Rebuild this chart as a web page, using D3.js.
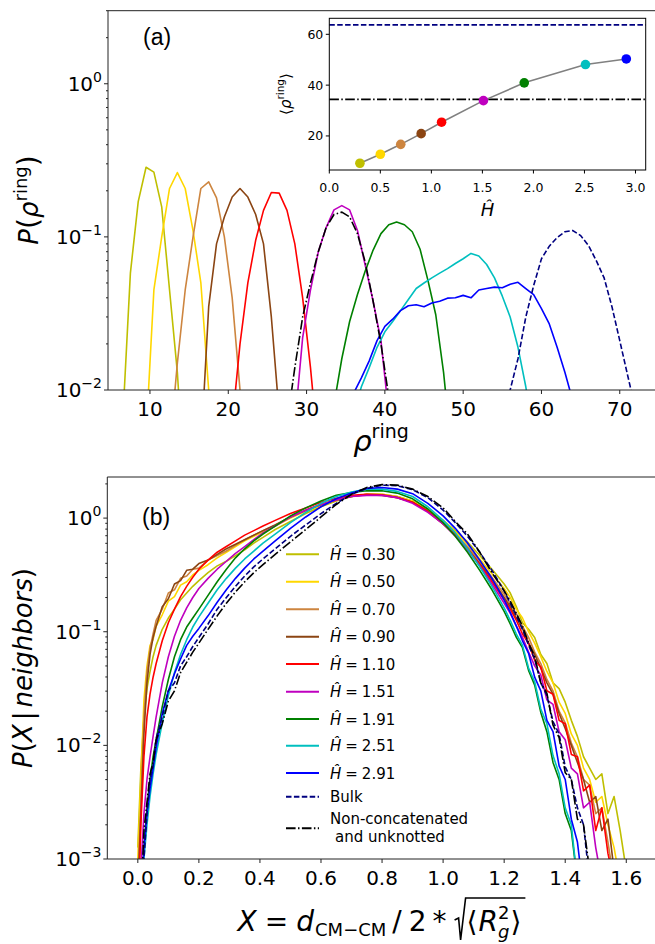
<!DOCTYPE html>
<html><head><meta charset="utf-8">
<script src="https://cdn.jsdelivr.net/npm/d3@7"></script>
<style>body{margin:0;background:#fff}svg{display:block}</style>
</head><body>
<svg id="c" width="655" height="944"></svg>
<script>
// ---------------- DATA ----------------
const hLabels = ["0.30","0.50","0.70","0.90","1.10","1.51","1.91","2.51","2.91"];
const hValues = [0.30,0.50,0.70,0.90,1.10,1.51,1.91,2.51,2.91];
const meanRho = [9.25,12.8,16.7,20.9,25.4,33.9,40.9,48.1,50.3];
const meanRhoBulk = 63.7;
const meanRhoNonconcat = 34.4;

// panel (a): P(rho_ring)
const rho_030 = [6.5,7.5,8.5,9.5,10.5,11.5,12.5,13.5,14.5];
const p_030   = [0.006,0.058,0.17,0.285,0.265,0.157,0.045,0.013,0.002];
const rho_050 = [9.5,10.5,11.5,12.5,13.5,14.5,15.5,16.5,17.5,18.5];
const p_050   = [0.005,0.045,0.10,0.207,0.263,0.207,0.11,0.05,0.01,0.002];
const rho_070 = [12.5,13.5,14.5,15.5,16.5,17.5,18.5,19.5,20.5,21.5,22.5];
const p_070   = [0.004,0.015,0.045,0.1,0.207,0.229,0.18,0.1,0.04,0.01,0.002];
const rho_090 = [16.5,17.5,18.5,19.5,20.5,21.5,22.5,23.5,24.5,25.5,26.5];
const p_090   = [0.004,0.035,0.09,0.135,0.182,0.207,0.182,0.14,0.09,0.03,0.007];
const rho_110 = [20.5,21.5,22.5,23.5,24.5,25.5,26.5,27.5,28.5,29.5,30.5,31.5];
const p_110   = [0.006,0.02,0.05,0.095,0.149,0.195,0.193,0.149,0.09,0.04,0.014,0.004];
const rho_151 = [28.5,29.5,30.5,31.5,32.5,33.5,34.5,35.5,36.5,37.5,38.5,39.5,40.5];
const p_151   = [0.006,0.022,0.045,0.08,0.115,0.15,0.16,0.15,0.11,0.065,0.038,0.021,0.007];
const rho_191 = [33.5,34.5,35.5,36.5,37.5,38.5,39.5,40.5,41.5,42.5,43.5,44.5,45.5,46.5,47.5,48.5];
const p_191   = [0.008,0.016,0.028,0.042,0.06,0.082,0.105,0.12,0.125,0.12,0.108,0.083,0.052,0.031,0.013,0.004];
const rho_251 = [36,37,38,39,40,41,42,43,44,45,46,47,48,49,50,51,52,53,54,55,56,57,58,59];
const p_251   = [0.007,0.0105,0.014,0.019,0.024,0.028,0.033,0.039,0.046,0.05,0.054,0.058,0.062,0.067,0.072,0.078,0.075,0.066,0.054,0.041,0.03,0.019,0.0105,0.005];
const rho_291 = [36,37,38,39,40,41,42,43,44,45,46,47,48,49,50,51,52,53,54,55,56,57,58,59,60,61,62,63,64];
const p_291   = [0.0095,0.012,0.0155,0.021,0.026,0.029,0.033,0.0355,0.036,0.035,0.037,0.038,0.0398,0.040,0.0415,0.040,0.045,0.046,0.047,0.0465,0.049,0.0505,0.046,0.042,0.034,0.027,0.019,0.013,0.0085];
const rho_bulk = [55,56,57,58,59,60,61,62,63,64,65,66,67,68,69,70,71,72];
const p_bulk   = [0.006,0.01,0.016,0.03,0.048,0.072,0.087,0.099,0.108,0.11,0.102,0.088,0.07,0.054,0.035,0.021,0.0125,0.0075];
const rho_nc = [27.5,28.5,29.5,30.5,31.5,32.5,33.5,34.5,35.5,36.5,37.5,38.5,39.5,40.5,41.5];
const p_nc   = [0.006,0.014,0.03,0.05,0.08,0.115,0.14,0.145,0.135,0.105,0.068,0.038,0.02,0.009,0.003];

// panel (b): P(X | neighbors)
const xGrid = [0,0.01,0.02,0.03,0.04,0.05,0.06,0.08,0.10,0.12,0.14,0.16,0.18,0.20,0.23,0.26,0.29,0.32,0.35,0.38,0.41,0.45,0.50,0.55,0.60,0.65,0.70,0.75,0.80,0.85,0.90,0.95,1.00,1.04,1.08,1.12,1.16,1.20,1.22,1.24,1.26,1.28,1.30,1.32,1.34,1.36,1.38,1.40,1.42,1.44,1.46,1.48,1.50,1.52,1.54,1.56,1.58,1.60,1.62];
const pX_030 = [0.00126,0.00631,0.0178,0.0316,0.0447,0.0603,0.0759,0.105,0.132,0.158,0.191,0.219,0.251,0.282,0.331,0.380,0.417,0.468,0.525,0.603,0.676,0.794,0.933,1.096,1.259,1.413,1.549,1.622,1.622,1.549,1.413,1.202,0.955,0.776,0.617,0.468,0.355,0.263,0.219,0.166,0.120,0.105,0.0891,0.0631,0.0525,0.0355,0.0316,0.0240,0.0166,0.0120,0.00794,0.00631,0.00501,0.00562,0.00251,0.00355,0.00178,0.000794,null];
const pX_050 = [0.001,0.00501,0.0251,0.0501,0.0759,0.0851,0.112,0.141,0.186,0.204,0.257,0.275,0.316,0.347,0.389,0.447,0.501,0.562,0.631,0.692,0.759,0.851,1.0,1.148,1.288,1.445,1.549,1.622,1.622,1.549,1.413,1.202,0.955,0.759,0.589,0.437,0.324,0.240,0.200,0.158,0.132,0.100,0.0794,0.0603,0.0447,0.0355,0.0240,0.0191,0.0126,0.0100,0.00631,0.00501,0.00316,0.00355,0.00200,0.00126,0.000631,null,null];
const pX_070 = [0.000631,0.00316,0.0178,0.0447,0.0708,0.0955,0.126,0.158,0.219,0.234,0.295,0.309,0.355,0.363,0.427,0.468,0.513,0.575,0.646,0.708,0.776,0.871,1.023,1.175,1.318,1.445,1.549,1.622,1.603,1.531,1.380,1.175,0.912,0.724,0.562,0.417,0.302,0.214,0.174,0.145,0.112,0.0891,0.0661,0.0525,0.0380,0.0302,0.0200,0.0158,0.0105,0.00794,0.00501,0.00447,0.00251,0.00282,0.00141,0.000631,null,null,null];
const pX_090 = [0.000501,0.00251,0.0126,0.0355,0.0631,0.0891,0.112,0.166,0.195,0.263,0.282,0.347,0.355,0.398,0.427,0.479,0.537,0.589,0.646,0.708,0.776,0.871,1.023,1.175,1.318,1.445,1.549,1.603,1.585,1.514,1.380,1.148,0.891,0.708,0.537,0.398,0.288,0.200,0.166,0.132,0.107,0.0794,0.0631,0.0479,0.0355,0.0282,0.0191,0.0141,0.0100,0.00708,0.00501,0.00316,0.00355,0.00178,0.00224,0.000794,null,null,null];
const pX_110 = [0.000251,0.00200,0.00794,0.0178,0.0282,0.0398,0.0525,0.0832,0.120,0.158,0.204,0.251,0.302,0.355,0.427,0.501,0.562,0.631,0.708,0.776,0.851,0.955,1.096,1.230,1.380,1.496,1.585,1.622,1.603,1.514,1.380,1.148,0.891,0.708,0.537,0.389,0.275,0.191,0.158,0.126,0.0955,0.0794,0.0562,0.0490,0.0302,0.0282,0.0166,0.0155,0.00832,0.00794,0.00398,0.00447,0.00178,0.00282,0.00112,0.000631,null,null,null];
const pX_151 = [0.0001,0.000794,0.00251,0.00501,0.00794,0.0120,0.0178,0.0355,0.0603,0.0912,0.126,0.162,0.200,0.240,0.295,0.355,0.417,0.490,0.562,0.646,0.741,0.851,1.023,1.175,1.318,1.445,1.549,1.585,1.585,1.514,1.349,1.122,0.891,0.692,0.525,0.380,0.263,0.178,0.145,0.112,0.0891,0.0661,0.0501,0.0417,0.0251,0.0229,0.0132,0.0112,0.00631,0.00562,0.00282,0.00316,0.00126,0.000631,null,null,null,null,null];
const pX_191 = [0.0000631,0.000398,0.00126,0.00282,0.00501,0.00794,0.0112,0.0219,0.0380,0.0603,0.0851,0.110,0.132,0.158,0.209,0.275,0.355,0.447,0.537,0.631,0.724,0.851,1.047,1.230,1.413,1.585,1.679,1.738,1.738,1.660,1.479,1.202,0.912,0.692,0.501,0.347,0.234,0.151,0.117,0.0891,0.0724,0.0457,0.0339,0.0195,0.0132,0.00708,0.00501,0.00251,0.00178,0.000631,null,null,null,null,null,null,null,null,null];
const pX_251 = [0.0000501,0.000251,0.001,0.002,0.00355,0.00562,0.00832,0.0158,0.0275,0.0437,0.0631,0.0851,0.110,0.135,0.178,0.234,0.295,0.363,0.437,0.513,0.603,0.724,0.912,1.122,1.349,1.549,1.698,1.799,1.799,1.718,1.549,1.259,0.955,0.741,0.537,0.372,0.251,0.162,0.126,0.0955,0.0759,0.0479,0.0363,0.0209,0.0155,0.00813,0.00562,0.00282,0.00200,0.000631,null,null,null,null,null,null,null,null,null];
const pX_291 = [0.0000501,0.000316,0.00126,0.00251,0.00417,0.00631,0.00955,0.0191,0.0302,0.0427,0.0575,0.0759,0.0912,0.107,0.138,0.182,0.234,0.295,0.363,0.437,0.513,0.631,0.813,1.023,1.259,1.479,1.660,1.820,1.862,1.799,1.641,1.349,1.047,0.813,0.603,0.427,0.295,0.191,0.148,0.112,0.0832,0.0646,0.0398,0.0302,0.0166,0.0132,0.00661,0.00501,0.00224,0.00141,0.000501,null,null,null,null,null,null,null,null];
const pX_bulk = [0.0000316,0.000251,0.001,0.00251,0.00501,0.00661,0.0115,0.0178,0.0302,0.0355,0.0501,0.0603,0.0741,0.0891,0.117,0.158,0.200,0.251,0.309,0.372,0.437,0.537,0.692,0.871,1.096,1.349,1.622,1.820,1.950,1.928,1.778,1.514,1.175,0.912,0.692,0.501,0.347,0.229,0.178,0.138,0.105,0.0759,0.0575,0.0355,0.0275,0.0162,0.0126,0.00646,0.00501,0.00282,0.00200,0.000631,null,null,null,null,null,null,null];
const pX_nc = [0.0000316,0.000398,0.00178,0.00316,0.00562,0.00708,0.0112,0.0155,0.0245,0.0302,0.0437,0.0537,0.0661,0.0794,0.105,0.138,0.178,0.224,0.275,0.331,0.389,0.479,0.617,0.794,1.023,1.318,1.622,1.862,1.972,1.950,1.799,1.549,1.230,0.933,0.724,0.501,0.331,0.229,0.186,0.145,0.112,0.0794,0.0603,0.0355,0.0288,0.0151,0.0117,0.00575,0.00501,0.00224,0.00200,0.000794,null,null,null,null,null,null,null];

// ---------------- STYLE ----------------
const colors = ["#bfbf00","#ffd700","#cd853f","#8b4513","#ff0000","#bf00bf","#008000","#00bfbf","#0000ff"];
const bulkColor = "#000080", ncColor = "#000000";
const DASH = "5.5,2.4", DASHDOT = "9.6,2.4,1.5,2.4";
const FONT = "'DejaVu Sans', sans-serif";
const AX = "#222";

const svg = d3.select("#c");

function mt(parent, parts, x, y, anchor, rotate) {
  const g = parent.append("g");
  let cx = 0;
  for (const p of parts) {
    if (p.gap !== undefined) { cx += p.gap; continue; }
    const t = g.append("text").attr("x", cx + (p.dx||0)).attr("y", p.dy || 0)
      .style("font-size", p.fs + "px").style("font-family", p.ff || FONT)
      .style("font-style", p.it ? "italic" : "normal").attr("fill", "#000").text(p.t);
    const w = t.node().getComputedTextLength();
    if (!p.noadv) cx += w + (p.dx||0);
  }
  const off = anchor === "middle" ? -cx/2 : anchor === "end" ? -cx : 0;
  g.attr("transform", `translate(${x},${y})` + (rotate ? ` rotate(${rotate})` : "") + ` translate(${off},0)`);
  return {g, w: cx};
}
function hline(g, x1, x2, y, opt) {
  return g.append("line").attr("x1", x1).attr("x2", x2).attr("y1", y).attr("y2", y)
    .attr("stroke", (opt&&opt.c)||AX).attr("stroke-width", (opt&&opt.w)||1);
}
function vline(g, x, y1, y2, opt) {
  return g.append("line").attr("x1", x).attr("x2", x).attr("y1", y1).attr("y2", y2)
    .attr("stroke", (opt&&opt.c)||AX).attr("stroke-width", (opt&&opt.w)||1);
}
function powLabel(g, exp, x, y, fs) {
  const e = exp < 0 ? "\u2212" + (-exp) : String(exp);
  mt(g, [{t:"10", fs}, {t:e, fs: fs*0.7, dy: -fs*0.45}], x, y, "end");
}
function minorList(lo, hi) {
  const out = [];
  for (let d = lo; d < hi; d *= 10) for (let k = 2; k <= 9; k++) if (d*k <= hi) out.push(d*k);
  return out;
}

// ================= PANEL (a) =================
const A = {l: 108, r: 655, t: 10.7, b: 390};
const xA = d3.scaleLinear().domain([4.64, 74.5]).range([A.l, A.r]);
const yA = d3.scaleLog().domain([0.01, 3]).range([A.b, A.t]);
const gA = svg.append("g");
svg.append("clipPath").attr("id","clipA").append("rect").attr("x",A.l).attr("y",A.t).attr("width",A.r-A.l+2).attr("height",A.b-A.t);

const lineA = d3.line().x(d => xA(d[0])).y(d => yA(d[1]));
const distA = [[rho_030,p_030],[rho_050,p_050],[rho_070,p_070],[rho_090,p_090],[rho_110,p_110],[rho_151,p_151],[rho_191,p_191],[rho_251,p_251],[rho_291,p_291]];
const cA = gA.append("g").attr("clip-path","url(#clipA)");
distA.forEach((s, i) => {
  cA.append("path").datum(s[0].map((r, j) => [r, s[1][j]])).attr("d", lineA)
    .attr("fill","none").attr("stroke", colors[i]).attr("stroke-width", 1.6).attr("stroke-linejoin","round");
});
cA.append("path").datum(rho_bulk.map((r,j)=>[r,p_bulk[j]])).attr("d", lineA)
  .attr("fill","none").attr("stroke", bulkColor).attr("stroke-width",1.6).attr("stroke-dasharray",DASH);
cA.append("path").datum(rho_nc.map((r,j)=>[r,p_nc[j]])).attr("d", lineA)
  .attr("fill","none").attr("stroke", ncColor).attr("stroke-width",1.6).attr("stroke-dasharray",DASHDOT);

hline(gA, A.l, A.r+2, A.t); hline(gA, A.l, A.r+2, A.b); vline(gA, A.l, A.t, A.b);
[10,20,30,40,50,60,70].forEach(v => {
  vline(gA, xA(v), A.b, A.b+4);
  mt(gA, [{t:String(v), fs:20}], xA(v), A.b+26, "middle");
});
[0.01,0.1,1].forEach((v,i) => {
  hline(gA, A.l-4, A.l, yA(v));
  powLabel(gA, [-2,-1,0][i], A.l-6, yA(v)+7, 20);
});
minorList(0.01, 3).forEach(v => hline(gA, A.l-2, A.l, yA(v)));
mt(gA, [{t:"(a)", fs:23, ff:"'Liberation Sans', Arial, sans-serif"}], 143, 45, "start");
mt(gA, [{t:"P", fs:26, it:1},{t:"(", fs:28},{t:"\u03C1", fs:26, it:1},{t:"ring", fs:18, dy:-11},{t:")", fs:28}], 38, 200, "middle", -90);
mt(gA, [{t:"\u03C1", fs:29, it:1},{t:"ring", fs:19, dy:-13}], 381, 451, "middle");

// ---- inset ----
const I = {l: 329.3, r: 645.7, t: 18.3, b: 170};
const xI = d3.scaleLinear().domain([0, 3.1]).range([I.l, I.r]);
const yI = d3.scaleLinear().domain([6.6, 66.3]).range([I.b, I.t]);
const gI = svg.append("g");
gI.append("rect").attr("x",I.l).attr("y",I.t).attr("width",I.r-I.l).attr("height",I.b-I.t).attr("fill","#fff");
hline(gI, I.l, I.r, yI(meanRhoBulk), {c: bulkColor, w: 1.6}).attr("stroke-dasharray", DASH);
hline(gI, I.l, I.r, yI(meanRhoNonconcat), {c: ncColor, w: 1.6}).attr("stroke-dasharray", DASHDOT);
gI.append("path").datum(hValues.map((h,i)=>[h, meanRho[i]]))
  .attr("d", d3.line().x(d=>xI(d[0])).y(d=>yI(d[1])))
  .attr("fill","none").attr("stroke","#808080").attr("stroke-width",1.6);
gI.selectAll("circle.m").data(hValues).join("circle").attr("class","m")
  .attr("cx", d => xI(d)).attr("cy", (d,i) => yI(meanRho[i])).attr("r", 4.8)
  .attr("fill", (d,i) => colors[i]);
gI.append("rect").attr("x",I.l).attr("y",I.t).attr("width",I.r-I.l).attr("height",I.b-I.t)
  .attr("fill","none").attr("stroke","#000").attr("stroke-width",1);
[0,0.5,1,1.5,2,2.5,3].forEach(v => {
  vline(gI, xI(v), I.b, I.b+3.5, {c:"#000"});
  mt(gI, [{t:v.toFixed(1), fs:12.5}], xI(v), I.b+21.5, "middle");
});
[20,40,60].forEach(v => {
  hline(gI, I.l-3.5, I.l, yI(v), {c:"#000"});
  mt(gI, [{t:String(v), fs:12.5}], I.l-6, yI(v)+4.5, "end");
});
mt(gI, [{t:"\u0124", fs:18, it:1}], (I.l+I.r)/2, 216, "middle");
mt(gI, [{t:"\u27E8", fs:15},{t:"\u03C1", fs:15, it:1},{t:"ring", fs:10.5, dy:-7},{t:"\u27E9", fs:15}], 291, 94, "middle", -90);

// ================= PANEL (b) =================
const B = {l: 107.3, r: 656.8, t: 477, b: 859};
const xB = d3.scaleLinear().domain([-0.1, 1.7]).range([B.l, B.r]);
const yB = d3.scaleLog().domain([0.001, 2.3]).range([B.b, B.t]);
const gB = svg.append("g");
svg.append("clipPath").attr("id","clipB").append("rect").attr("x",B.l).attr("y",B.t).attr("width",B.r-B.l).attr("height",B.b-B.t);
const lineB = d3.line().defined(d => d[1] != null).x(d => xB(d[0])).y(d => yB(d[1]));
const seriesB = [pX_030,pX_050,pX_070,pX_090,pX_110,pX_151,pX_191,pX_251,pX_291];
const cB = gB.append("g").attr("clip-path","url(#clipB)");
seriesB.forEach((s,i) => {
  cB.append("path").datum(xGrid.map((x,j)=>[x, s[j]])).attr("d", lineB)
    .attr("fill","none").attr("stroke", colors[i]).attr("stroke-width",1.6).attr("stroke-linejoin","round");
});
cB.append("path").datum(xGrid.map((x,j)=>[x, pX_bulk[j]])).attr("d", lineB)
  .attr("fill","none").attr("stroke", bulkColor).attr("stroke-width",1.6).attr("stroke-dasharray",DASH);
cB.append("path").datum(xGrid.map((x,j)=>[x, pX_nc[j]])).attr("d", lineB)
  .attr("fill","none").attr("stroke", ncColor).attr("stroke-width",1.6).attr("stroke-dasharray",DASHDOT);

hline(gB, B.l, B.r, B.t); hline(gB, B.l, B.r, B.b); vline(gB, B.l, B.t, B.b);
[0,0.2,0.4,0.6,0.8,1.0,1.2,1.4,1.6].forEach(v => {
  vline(gB, xB(v), B.b, B.b+4);
  mt(gB, [{t:v.toFixed(1), fs:20}], xB(v), B.b+26, "middle");
});
[0.001,0.01,0.1,1].forEach((v,i) => {
  hline(gB, B.l-4, B.l, yB(v));
  powLabel(gB, [-3,-2,-1,0][i], B.l-6, yB(v)+7, 20);
});
minorList(0.001, 2.3).forEach(v => hline(gB, B.l-2, B.l, yB(v)));
mt(gB, [{t:"(b)", fs:23, ff:"'Liberation Sans', Arial, sans-serif"}], 142, 525, "start");
mt(gB, [{t:"P", fs:26, it:1},{t:"(", fs:26},{t:"X", fs:26, it:1},{gap:4},{t:"|", fs:26},{gap:4},{t:"neighbors", fs:26, it:1},{t:")", fs:26}], 32, 668, "middle", -90);

(function(){
  const g = gB.append("g");
  let cx = 0;
  const put = (t, fs, it, dy) => {
    const el = g.append("text").attr("x", cx).attr("y", dy||0).style("font-size", fs+"px")
      .style("font-family", FONT).style("font-style", it ? "italic" : "normal").text(t);
    return el.node().getComputedTextLength();
  };
  cx += put("X", 28, 1); cx += 8;
  cx += put("=", 28); cx += 8;
  cx += put("d", 28, 1); cx += 1;
  cx += put("CM\u2212CM", 18, 0, 5); cx += 6;
  cx += put("/", 28); cx += 7;
  cx += put("2", 28); cx += 6;
  cx += put("*", 28); cx += 8;
  const r0 = cx;
  cx += 12;
  cx += put("\u27E8", 28); cx += 1;
  cx += put("R", 28, 1);
  const w1 = put("g", 18, 1, 7);
  const w2 = put("2", 18, 0, -12);
  cx += Math.max(w1, w2) + 1;
  cx += put("\u27E9", 28);
  const r1 = cx + 4;
  g.append("path").attr("d", `M${r0},-11 L${r0+4},-13 L${r0+6},9 L${r0+11},-33 L${r1},-33`)
    .attr("fill","none").attr("stroke","#000").attr("stroke-width",1.6);
  g.attr("transform", `translate(${381.5 - r1/2},931)`);
})();

const LG = {x0: 286, x1: 319, tx: 330};
const rowsY = [554.3,581.7,609.3,636.7,664,691.7,719,745.7,773];
hLabels.forEach((lab,i) => {
  hline(gB, LG.x0, LG.x1, rowsY[i], {c: colors[i], w: 2});
  mt(gB, [{t:"\u0124", fs:15, it:1},{gap:4},{t:"=", fs:15},{gap:4},{t:lab, fs:15}], LG.tx, rowsY[i]+5.5, "start");
});
hline(gB, LG.x0, LG.x1, 796.7, {c: bulkColor, w: 2}).attr("stroke-dasharray", DASH);
mt(gB, [{t:"Bulk", fs:15}], LG.tx, 796.7+5.5, "start");
hline(gB, LG.x0, LG.x1, 828.3, {c: ncColor, w: 2}).attr("stroke-dasharray", DASHDOT);
mt(gB, [{t:"Non-concatenated", fs:15}], LG.tx, 818.3+5.5, "start");
mt(gB, [{t:"and unknotted", fs:15}], LG.tx+5, 836.7+5.5, "start");
</script>
</body></html>
